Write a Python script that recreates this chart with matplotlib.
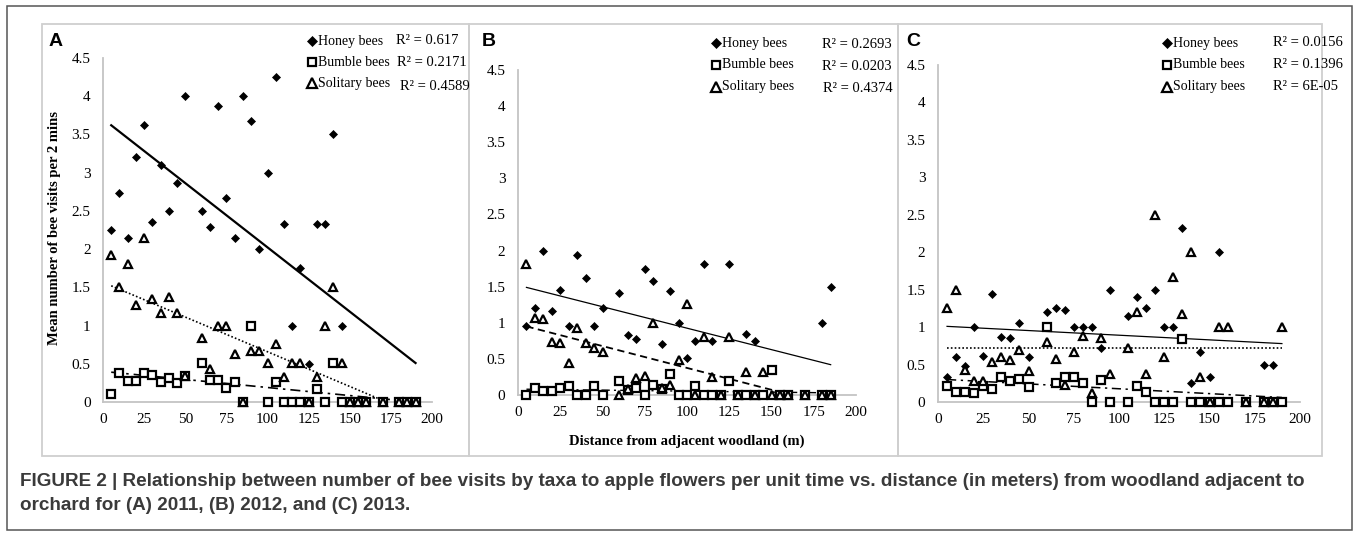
import numpy as np
import matplotlib
matplotlib.use("Agg")
import matplotlib.pyplot as plt
from matplotlib.lines import Line2D
from matplotlib.patches import Rectangle

W, H = 1357, 548
SERIF = "Liberation Serif"
SANS = "Liberation Sans"

# ---- data ---------------------------------------------------------------
# Panel A (2011)
A_honey_x = [5, 10, 15, 20, 25, 30, 35, 40, 45, 50, 60, 65, 70, 75, 80, 85, 90,
             95, 100, 105, 110, 115, 120, 125, 130, 135, 140, 145]
A_honey_y = [2.25, 2.74, 2.14, 3.2, 3.63, 2.35, 3.1, 2.5, 2.86, 4.0, 2.5, 2.29,
             3.87, 2.67, 2.14, 4.0, 3.67, 2.0, 3.0, 4.25, 2.33, 1.0, 1.75, 0.5,
             2.33, 2.33, 3.5, 1.0]
A_bumble_x = [5, 10, 15, 20, 25, 30, 35, 40, 45, 50, 60, 65, 70, 75, 80, 85, 90,
              100, 105, 110, 115, 120, 125, 130, 135, 140, 145, 150, 155, 160,
              170, 180, 185, 190]
A_bumble_y = [0.1, 0.38, 0.27, 0.27, 0.38, 0.35, 0.26, 0.32, 0.25, 0.34, 0.51,
              0.29, 0.29, 0.18, 0.26, 0, 1.0, 0, 0.26, 0, 0, 0, 0, 0.17, 0, 0.51,
              0, 0, 0, 0, 0, 0, 0, 0]
A_solitary_x = [5, 10, 15, 20, 25, 30, 35, 40, 45, 50, 60, 65, 70, 75, 80, 85,
                90, 95, 100, 105, 110, 115, 120, 125, 130, 135, 140, 145, 150,
                155, 160, 170, 180, 185, 190]
A_solitary_y = [1.92, 1.5, 1.81, 1.27, 2.14, 1.35, 1.17, 1.38, 1.16, 0.34, 0.84,
                0.43, 1.0, 1.0, 0.63, 0, 0.67, 0.67, 0.51, 0.76, 0.33, 0.51,
                0.51, 0, 0.33, 1.0, 1.51, 0.51, 0, 0, 0, 0, 0, 0, 0]
A_fit_x = [5, 190]
A_fit_honey = [3.62, 0.51]
A_fit_bumble = [0.39, 0.0]
A_fit_solitary = [1.52, -0.16]
A_r2 = ["0.617", "0.2171", "0.4589"]

# Panel B (2012)
B_honey_x = [5, 10, 15, 20, 25, 30, 35, 40, 45, 50, 60, 65, 70, 75, 80, 85, 90,
             95, 100, 105, 110, 115, 125, 135, 140, 180, 185]
B_honey_y = [0.96, 1.2, 2.0, 1.16, 1.45, 0.96, 1.94, 1.62, 0.95, 1.2, 1.41, 0.83,
             0.78, 1.75, 1.58, 0.7, 1.44, 1.0, 0.51, 0.75, 1.81, 0.75, 1.81,
             0.84, 0.75, 1.0, 1.5]
B_bumble_x = [5, 10, 15, 20, 25, 30, 35, 40, 45, 50, 60, 65, 70, 75, 80, 85, 90,
              95, 100, 105, 110, 115, 120, 125, 130, 135, 140, 145, 150, 155,
              160, 170, 180, 185]
B_bumble_y = [0, 0.1, 0.05, 0.06, 0.1, 0.13, 0, 0, 0.12, 0, 0.19, 0.07, 0.1, 0,
              0.14, 0.08, 0.29, 0, 0, 0.13, 0, 0, 0, 0.19, 0, 0, 0, 0, 0.34, 0,
              0, 0, 0, 0]
B_solitary_x = [5, 10, 15, 20, 25, 30, 35, 40, 45, 50, 60, 65, 70, 75, 80, 85,
                90, 95, 100, 105, 110, 115, 120, 125, 130, 135, 140, 145, 150,
                155, 160, 170, 180, 185]
B_solitary_y = [1.81, 1.06, 1.05, 0.74, 0.72, 0.45, 0.93, 0.72, 0.65, 0.59, 0,
                0.09, 0.23, 0.26, 1.0, 0.1, 0.14, 0.49, 1.26, 0, 0.81, 0.25, 0,
                0.81, 0, 0.32, 0, 0.32, 0, 0, 0, 0, 0, 0]
B_fit_x = [5, 185]
B_fit_honey = [1.49, 0.42]
B_fit_bumble = [0.08, 0.03]
B_fit_solitary = [0.95, -0.14]
B_r2 = ["0.2693", "0.0203", "0.4374"]

# Panel C (2013)
C_honey_x = [5, 10, 15, 20, 25, 30, 35, 40, 45, 50, 60, 65, 70, 75, 80, 85, 90,
             95, 105, 110, 115, 120, 125, 130, 135, 140, 145, 150, 155, 180, 185]
C_honey_y = [0.33, 0.6, 0.48, 1.0, 0.61, 1.44, 0.87, 0.85, 1.06, 0.6, 1.2, 1.25,
             1.23, 1.0, 1.0, 1.0, 0.72, 1.5, 1.15, 1.4, 1.25, 1.5, 1.0, 1.0,
             2.33, 0.26, 0.67, 0.34, 2.0, 0.5, 0.5]
C_bumble_x = [5, 10, 15, 20, 25, 30, 35, 40, 45, 50, 60, 65, 70, 75, 80, 85, 90,
              95, 105, 110, 115, 120, 125, 130, 135, 140, 145, 150, 155, 160,
              170, 180, 185, 190]
C_bumble_y = [0.22, 0.14, 0.13, 0.12, 0.22, 0.18, 0.34, 0.28, 0.31, 0.2, 1.0,
              0.26, 0.34, 0.34, 0.26, 0, 0.3, 0, 0, 0.21, 0.14, 0, 0, 0, 0.84,
              0, 0, 0, 0, 0, 0, 0, 0, 0]
C_solitary_x = [5, 10, 15, 20, 25, 30, 35, 40, 45, 50, 60, 65, 70, 75, 80, 85,
                90, 95, 105, 110, 115, 120, 125, 130, 135, 140, 145, 150, 155,
                160, 170, 180, 185, 190]
C_solitary_y = [1.26, 1.5, 0.43, 0.28, 0.28, 0.53, 0.6, 0.56, 0.7, 0.41, 0.8,
                0.58, 0.23, 0.67, 0.88, 0.12, 0.86, 0.38, 0.72, 1.2, 0.38, 2.5,
                0.6, 1.67, 1.17, 2.0, 0.33, 0, 1.0, 1.0, 0, 0, 0, 1.0]
C_fit_x = [5, 190]
C_fit_honey = [1.01, 0.78]
C_fit_bumble = [0.30, 0.06]
C_fit_solitary = [0.72, 0.72]
C_r2 = ["0.0156", "0.1396", "6E-05"]

series_names = ["Honey bees", "Bumble bees", "Solitary bees"]
y_ticks = [0, 0.5, 1, 1.5, 2, 2.5, 3, 3.5, 4, 4.5]
x_ticks = [0, 25, 50, 75, 100, 125, 150, 175, 200]

caption_1 = ("FIGURE 2 | Relationship between number of bee visits by taxa to "
             "apple flowers per unit time vs. distance (in meters) from woodland "
             "adjacent to")
caption_2 = "orchard for (A) 2011, (B) 2012, and (C) 2013."


def fx(px):
    return px / W


def fy(py):
    return 1 - py / H


MARKERS = [
    dict(marker="D", ms=4.4, mfc="black", mec="black", mew=0.5),
    dict(marker="s", ms=5.6, mfc="white", mec="black", mew=1.6),
    dict(marker="^", ms=6.0, mfc="white", mec="black", mew=1.6),
]

fig = plt.figure(figsize=(W / 100, H / 100), dpi=100)

# outer frame and panel boxes
fig.add_artist(Rectangle((fx(7), fy(530)), fx(1352) - fx(7), fy(6) - fy(530),
                         transform=fig.transFigure, fill=False,
                         edgecolor="#555555", lw=1.1))
for left, right in [(42, 469), (469, 898), (898, 1322)]:
    fig.add_artist(Rectangle((fx(left), fy(456)), fx(right) - fx(left),
                             fy(24) - fy(456), transform=fig.transFigure,
                             fill=False, edgecolor="#cfcfcf", lw=1.3))

panels = [
    dict(label="A", box=(103, 432, 58, 402), lab_xy=(49, 41),
         data=[(A_honey_x, A_honey_y), (A_bumble_x, A_bumble_y),
               (A_solitary_x, A_solitary_y)],
         fit_x=A_fit_x, fits=[A_fit_honey, A_fit_bumble, A_fit_solitary],
         styles=[dict(ls="-", lw=1.6), dict(ls=(0, (6, 3, 1.5, 3)), lw=1.2),
                 dict(ls=(0, (1, 1.3)), lw=1.2)],
         r2=A_r2, leg_mx=312, leg_ys=[41, 62, 83], r2_xy=[(396, 41), (397, 62),
                                                         (400, 86)]),
    dict(label="B", box=(518, 856, 70, 395), lab_xy=(482, 41),
         data=[(B_honey_x, B_honey_y), (B_bumble_x, B_bumble_y),
               (B_solitary_x, B_solitary_y)],
         fit_x=B_fit_x, fits=[B_fit_honey, B_fit_bumble, B_fit_solitary],
         styles=[dict(ls="-", lw=0.9), dict(ls=(0, (6, 3, 1.5, 3)), lw=1.0),
                 dict(ls=(0, (4, 2.5)), lw=1.3)],
         r2=B_r2, leg_mx=716, leg_ys=[43, 65, 87], r2_xy=[(822, 45), (822, 66),
                                                         (823, 89)]),
    dict(label="C", box=(938, 1300, 65, 402), lab_xy=(906, 41),
         data=[(C_honey_x, C_honey_y), (C_bumble_x, C_bumble_y),
               (C_solitary_x, C_solitary_y)],
         fit_x=C_fit_x, fits=[C_fit_honey, C_fit_bumble, C_fit_solitary],
         styles=[dict(ls="-", lw=0.9), dict(ls=(0, (6, 3, 1.5, 3)), lw=1.1),
                 dict(ls=(0, (1, 1.3)), lw=1.2)],
         r2=C_r2, leg_mx=1167, leg_ys=[43, 65, 87], r2_xy=[(1273, 43),
                                                          (1273, 65),
                                                          (1273, 87)]),
]

for p in panels:
    x0, x1, ytop, ybot = p["box"]
    ax = fig.add_axes([fx(x0), fy(ybot), (x1 - x0) / W, (ybot - ytop) / H])
    for (xs, ys), mk in zip(p["data"], MARKERS):
        ax.plot(xs, ys, ls="none", clip_on=False, zorder=3, **mk)
    for fit, st in zip(p["fits"], p["styles"]):
        ax.plot(p["fit_x"], fit, color="black", zorder=2, **st)
    ax.set_xlim(0, 200)
    ax.set_ylim(0, 4.5)
    ax.set_xticks(x_ticks)
    ax.set_yticks(y_ticks)
    ax.set_yticklabels([f"{v:g}" for v in y_ticks])
    ax.tick_params(length=0, labelsize=11, pad=9)
    ax.tick_params(axis="x", pad=8)
    for lbl in ax.get_xticklabels() + ax.get_yticklabels():
        lbl.set_fontfamily(SERIF)
    for side in ["top", "right"]:
        ax.spines[side].set_visible(False)
    for side in ["left", "bottom"]:
        ax.spines[side].set_color("#c4c4c4")
        ax.spines[side].set_linewidth(1.3)
    ax.patch.set_alpha(0)

    fig.text(fx(p["lab_xy"][0]), fy(p["lab_xy"][1]), p["label"],
             family=SANS, weight="bold", fontsize=14, va="center", ha="left")

    # legend: markers + names, then R² text boxes
    for name, mk, ly in zip(series_names, MARKERS, p["leg_ys"]):
        lm = dict(mk)
        lm["ms"] = mk["ms"] * 1.1
        fig.add_artist(Line2D([fx(p["leg_mx"])], [fy(ly)],
                              transform=fig.transFigure, ls="none", **lm))
        fig.text(fx(p["leg_mx"] + 6), fy(ly), name, family=SERIF,
                 fontsize=10, va="center", ha="left")
    for r2, (rx, ry) in zip(p["r2"], p["r2_xy"]):
        fig.text(fx(rx), fy(ry), f"R² = {r2}", family=SERIF, fontsize=10.5,
                 va="center", ha="left")

fig.text(fx(55), fy(228), "Mean number of bee visits per 2 mins",
         family=SERIF, weight="bold", fontsize=10.5, rotation=90,
         va="center", ha="center")
fig.text(fx(687), fy(441), "Distance from adjacent woodland (m)",
         family=SERIF, weight="bold", fontsize=10.5, va="center", ha="center")

fig.text(fx(20), fy(482), caption_1, family=SANS, weight="bold",
         fontsize=13.6, color="#3a3a3a", va="center", ha="left")
fig.text(fx(20), fy(506), caption_2, family=SANS, weight="bold",
         fontsize=13.6, color="#3a3a3a", va="center", ha="left")

fig.savefig("out.png", dpi=100)
